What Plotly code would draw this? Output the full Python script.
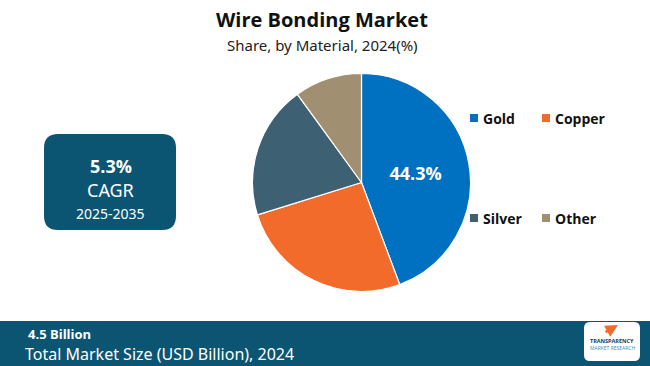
import plotly.graph_objects as go

materials = ["Gold", "Copper", "Silver", "Other"]
shares = [44.3, 25.9, 19.8, 10.0]
colors = ["#0070C0", "#F26B2A", "#3E6073", "#A08F70"]
shown_labels = ["44.3%", "", "", ""]

title = "Wire Bonding Market"
subtitle = "Share, by Material, 2024(%)"
cagr_value = "5.3%"
cagr_period = "2025-2035"
market_size = "4.5 Billion"
market_label = "Total Market Size (USD Billion), 2024"

W, H = 650, 366
DARK = "#0B5573"

fig = go.Figure()
fig.add_trace(go.Pie(
    labels=materials, values=shares, sort=False, direction="clockwise", rotation=0,
    marker=dict(colors=colors, line=dict(color="white", width=1.2)),
    text=shown_labels, texttemplate="%{text}", textposition="inside",
    insidetextorientation="horizontal",
    textfont=dict(family="Open Sans", size=18, color="white", weight="bold"),
    hoverinfo="label+percent", showlegend=False,
    domain=dict(x=[252.5 / W, 470.5 / W], y=[(H - 291.5) / H, (H - 73.5) / H]),
))

def px(x): return x / W
def py(y): return 1 - y / H

shapes = []
annotations = []

# title
annotations.append(dict(x=px(322), y=py(20), text=f"<b>{title}</b>", showarrow=False,
                        font=dict(family="Open Sans", size=20, color="#111111"), xanchor="center", yanchor="middle"))
annotations.append(dict(x=px(322), y=py(45), text=subtitle, showarrow=False,
                        font=dict(family="Noto Sans", size=15, color="#222222"), xanchor="center", yanchor="middle"))

# CAGR box (rounded)
x0, y0, x1, y1, r = 44, 134, 176, 230, 14
path = (f"M {px(x0+r)} {py(y0)} L {px(x1-r)} {py(y0)} Q {px(x1)} {py(y0)} {px(x1)} {py(y0+r)} "
        f"L {px(x1)} {py(y1-r)} Q {px(x1)} {py(y1)} {px(x1-r)} {py(y1)} "
        f"L {px(x0+r)} {py(y1)} Q {px(x0)} {py(y1)} {px(x0)} {py(y1-r)} "
        f"L {px(x0)} {py(y0+r)} Q {px(x0)} {py(y0)} {px(x0+r)} {py(y0)} Z")
shapes.append(dict(type="path", xref="paper", yref="paper", path=path, fillcolor=DARK, line=dict(width=0)))
annotations.append(dict(x=px(111), y=py(166), text=f"<b>{cagr_value}</b>", showarrow=False,
                        font=dict(family="Open Sans", size=18, color="white"), xanchor="center", yanchor="middle"))
annotations.append(dict(x=px(111), y=py(190), text="CAGR", showarrow=False,
                        font=dict(family="Noto Sans", size=18, color="white"), xanchor="center", yanchor="middle"))
annotations.append(dict(x=px(111), y=py(213), text=cagr_period, showarrow=False,
                        font=dict(family="Noto Sans", size=14, color="white"), xanchor="center", yanchor="middle"))

# legend
leg_pos = [(470, 118), (542, 118), (470, 218), (542, 218)]
for (lx, ly), name, col in zip(leg_pos, materials, colors):
    shapes.append(dict(type="rect", xref="paper", yref="paper", x0=px(lx), x1=px(lx + 8),
                       y0=py(ly + 4), y1=py(ly - 4), fillcolor=col, line=dict(width=0)))
    annotations.append(dict(x=px(lx + 11), y=py(ly), text=f"<b>{name}</b>", showarrow=False,
                            font=dict(family="Open Sans", size=14, color="#111111"), xanchor="left", yanchor="middle"))

# bottom band
shapes.append(dict(type="rect", xref="paper", yref="paper", x0=0, x1=1, y0=0, y1=py(321),
                   fillcolor=DARK, line=dict(width=0)))
annotations.append(dict(x=px(26), y=py(334), text=f"<b>{market_size}</b>", showarrow=False,
                        font=dict(family="Open Sans", size=13, color="white"), xanchor="left", yanchor="middle"))
annotations.append(dict(x=px(23), y=py(354), text=market_label, showarrow=False,
                        font=dict(family="Noto Sans", size=16, color="white"), xanchor="left", yanchor="middle"))

# logo box
lx0, ly0, lx1, ly1, lr = 584, 322, 640, 361, 6
lpath = (f"M {px(lx0+lr)} {py(ly0)} L {px(lx1-lr)} {py(ly0)} Q {px(lx1)} {py(ly0)} {px(lx1)} {py(ly0+lr)} "
         f"L {px(lx1)} {py(ly1-lr)} Q {px(lx1)} {py(ly1)} {px(lx1-lr)} {py(ly1)} "
         f"L {px(lx0+lr)} {py(ly1)} Q {px(lx0)} {py(ly1)} {px(lx0)} {py(ly1-lr)} "
         f"L {px(lx0)} {py(ly0+lr)} Q {px(lx0)} {py(ly0)} {px(lx0+lr)} {py(ly0)} Z")
shapes.append(dict(type="path", xref="paper", yref="paper", path=lpath, fillcolor="white", line=dict(width=0)))
annotations.append(dict(x=px(618), y=py(325), ax=-14, ay=8, axref="pixel", ayref="pixel",
                        text="", showarrow=True, arrowhead=2,
                        arrowsize=1, arrowwidth=2.5, arrowcolor="#F26B2A"))
annotations.append(dict(x=px(612), y=py(341), text="<b>TRANSPARENCY</b>", showarrow=False,
                        font=dict(family="Open Sans", size=5.5, color="#1B3A5A"), xanchor="center", yanchor="middle"))
annotations.append(dict(x=px(612), y=py(348), text="MARKET RESEARCH", showarrow=False,
                        font=dict(family="Open Sans", size=5, color="#3A8FB7"), xanchor="center", yanchor="middle"))

for a in annotations:
    a.setdefault("xref", "paper")
    a.setdefault("yref", "paper")

fig.update_layout(width=W, height=H, margin=dict(l=0, r=0, t=0, b=0),
                  paper_bgcolor="white", plot_bgcolor="white",
                  shapes=shapes, annotations=annotations)

fig.write_html("out.html")
